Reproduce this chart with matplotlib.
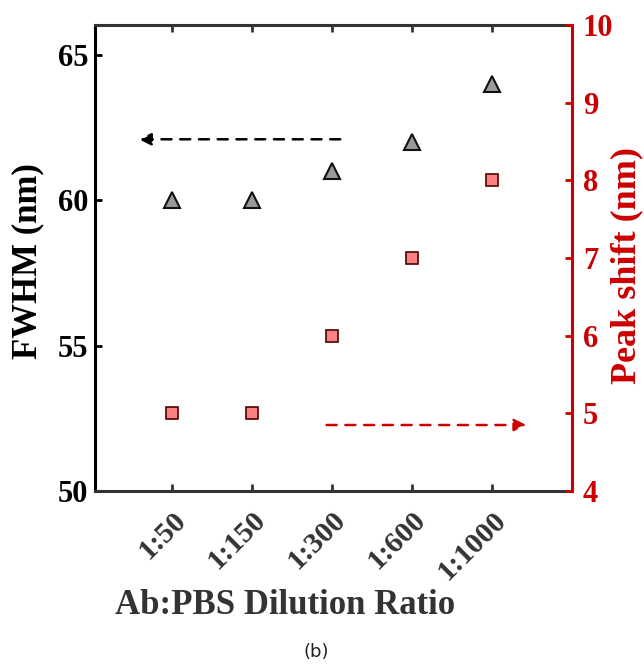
import numpy as np
import matplotlib.pyplot as plt
from matplotlib.transforms import ScaledTranslation

ratios = ['1:50', '1:150', '1:300', '1:600', '1:1000']
fwhm = [60, 60, 61, 62, 64]          # nm, left axis
peak_shift = [5, 5, 6, 7, 8]         # nm, right axis

red = '#cc0000'
serif = 'Liberation Serif'

fig = plt.figure(figsize=(6.44, 6.64), dpi=100)
ax = fig.add_axes([0.1475, 0.2605, 0.7405, 0.7018])
ax2 = ax.twinx()

x = np.arange(1, len(ratios) + 1)

ax.plot(x, fwhm, linestyle='none', marker='^', markersize=12,
        markerfacecolor='#999999', markeredgecolor='#111111', markeredgewidth=1.5, zorder=3)
ax2.plot(x, peak_shift, linestyle='none', marker='s', markersize=8,
         markerfacecolor='#ff8080', markeredgecolor='#4a0000', markeredgewidth=1.2, zorder=3)

# direction arrows
ax.annotate('', xy=(0.58, 62.1), xytext=(3.1, 62.1),
            arrowprops=dict(arrowstyle='-|>', linestyle=(0, (4, 3.5)), color='black',
                            lw=1.8, mutation_scale=18, shrinkA=0, shrinkB=0))
ax2.annotate('', xy=(5.43, 4.85), xytext=(2.93, 4.85),
             arrowprops=dict(arrowstyle='-|>', linestyle=(0, (4, 3.5)), color=red,
                             lw=1.8, mutation_scale=18, shrinkA=0, shrinkB=0))

ax.set_xlim(0.03, 6)
ax.set_ylim(50, 66.03)
ax2.set_ylim(4, 10)

ax.set_xticks(x)
ax.set_xticklabels(ratios, rotation=45, ha='right', rotation_mode='anchor',
                   fontfamily=serif, fontweight='bold', fontsize=21.5, color='#333333')
shift = ScaledTranslation(0.11, 0, fig.dpi_scale_trans)
for lab in ax.get_xticklabels():
    lab.set_transform(lab.get_transform() + shift)

ax.set_yticks([50, 55, 60, 65])
ax.set_yticklabels(['50', '55', '60', '65'], fontfamily=serif, fontweight='bold', fontsize=22)
ax2.set_yticks(range(4, 11))
ax2.set_yticklabels([str(v) for v in range(4, 11)], fontfamily=serif, fontweight='bold',
                    fontsize=22, color=red)

ax.tick_params(axis='x', direction='in', length=5, width=2, top=True, pad=11, color='#333333')
ax.tick_params(axis='y', direction='in', length=5, width=2, pad=5)
ax2.tick_params(axis='y', direction='in', length=5, width=2, color=red, pad=8)

ax.spines['left'].set_linewidth(2.2)
ax.spines['bottom'].set_linewidth(2.2)
ax.spines['bottom'].set_color('#333333')
ax.spines['top'].set_linewidth(2.2)
ax.spines['top'].set_color('#333333')
ax2.spines['right'].set_color(red)
ax2.spines['right'].set_linewidth(2.2)
ax2.spines['left'].set_visible(False)
ax2.spines['top'].set_visible(False)
ax2.spines['bottom'].set_visible(False)
ax.spines['right'].set_visible(False)

fig.text(28 / 644, 1 - 261 / 664, 'FWHM (nm)', rotation=90, ha='center', va='center',
         fontfamily=serif, fontweight='bold', fontsize=25, color='black')
fig.text(627 / 644, 1 - 265 / 664, 'Peak shift (nm)', rotation=90, ha='center', va='center',
         fontfamily=serif, fontweight='bold', fontsize=26, color=red)

fig.text(285 / 644, 1 - 605 / 664, 'Ab:PBS Dilution Ratio', ha='center', va='center',
         fontfamily=serif, fontweight='bold', fontsize=25, color='#333333')
fig.text(316 / 644, 1 - 652 / 664, '(b)', ha='center', va='center',
         fontfamily='DejaVu Sans', fontsize=13, color='#222222')

plt.savefig('out.png', dpi=100)
